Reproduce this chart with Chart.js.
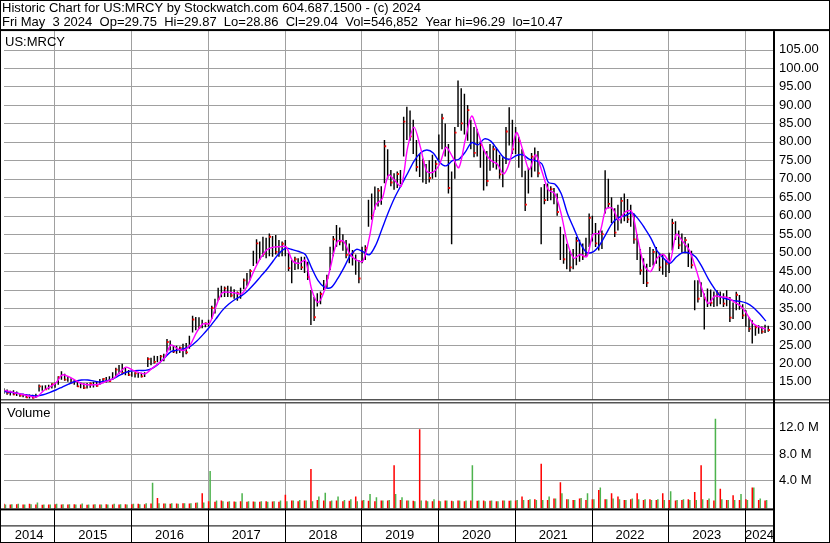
<!DOCTYPE html>
<html>
<head>
<meta charset="utf-8">
<script src="https://cdn.jsdelivr.net/npm/chart.js@4.4.1/dist/chart.umd.min.js"></script>
<style>
  html, body { margin: 0; padding: 0; background: #fff; }
  #wrap { width: 830px; height: 543px; }
</style>
</head>
<body>
<div id="wrap"><canvas id="myChart" width="830" height="543"></canvas></div>
<script>
const ctx = document.getElementById('myChart').getContext('2d');

// year boundaries and the labels under them
const years = [2014, 2015, 2016, 2017, 2018, 2019, 2020, 2021, 2022, 2023, 2024];
const yearLabels = ['2014', '2015', '2016', '2017', '2018', '2019', '2020', '2021', '2022', '2023', '2024'];

// half-month samples from May 2014 to May 2024
const firstSample = 2014.354;
const sampleStep = 1 / 24;

// price range of each half-month
const priceLow = [
  11.8,11.5,11.3,11.4,11.2,11.0,10.8,10.6,10.5,10.5,10.6,12.4,12.6,12.8,12.9,13.2,
  13.4,14.2,15.6,15.3,15.0,14.6,14.2,13.6,13.3,13.1,13.2,13.4,13.5,13.7,14.2,14.6,14.8,15.0,15.6,16.5,17.2,17.0,16.8,16.6,
  16.4,16.2,16.1,16.2,16.3,19.0,19.5,20.0,20.3,20.5,20.6,23.0,23.5,22.8,22.6,22.8,21.7,22.5,24.0,28.4,29.0,29.3,29.5,29.8,
  30.0,32.0,33.5,37.0,37.9,38.0,38.0,37.9,37.5,37.0,37.5,40.1,41.0,42.5,46.4,47.0,48.0,48.9,48.5,49.0,48.9,49.5,48.9,49.0,
  49.0,45.0,41.7,45.3,45.5,45.3,44.5,42.6,30.4,31.5,35.4,36.0,39.9,40.5,45.3,49.0,51.6,52.0,50.5,48.5,47.1,46.5,44.0,41.7,
  47.1,48.0,57.0,58.9,61.6,62.5,63.0,68.8,70.0,68.0,67.0,67.5,68.5,76.0,80.5,80.3,76.7,72.0,70.5,69.0,68.6,69.0,70.0,70.4,
  75.0,78.0,76.0,66.0,52.3,70.0,84.0,83.0,82.0,80.3,78.0,75.8,76.0,73.0,66.8,68.0,72.2,73.0,72.5,70.0,67.7,74.0,79.0,76.7,
  76.7,73.0,70.4,61.3,66.0,70.4,72.0,70.4,52.3,63.1,64.0,64.2,63.1,60.0,48.0,47.0,45.5,44.8,45.5,46.6,47.5,48.0,49.0,51.5,
  53.0,51.5,50.6,51.0,60.6,62.0,58.0,54.2,56.0,57.9,58.5,58.0,57.0,52.4,48.0,44.0,41.5,40.7,46.1,46.5,47.0,45.0,44.0,43.4,
  44.5,50.6,53.4,51.0,50.0,49.8,46.1,45.7,34.4,36.5,38.0,29.2,35.3,35.5,35.3,35.5,36.0,35.3,35.5,31.2,32.0,34.4,34.5,32.0,
  29.9,28.5,25.4,27.5,28.0,28.0,28.2,28.6
];
const priceHigh = [
  13.3,12.9,12.6,12.7,12.4,12.0,11.8,11.7,11.6,11.5,11.8,14.3,14.0,14.1,14.2,14.6,
  14.8,16.5,17.9,17.2,16.6,16.0,15.6,15.2,14.8,14.6,14.7,14.8,15.0,15.2,15.8,16.0,16.3,16.5,17.6,18.8,19.6,19.9,19.0,18.2,
  17.8,17.6,17.4,17.5,17.6,21.7,21.5,22.1,22.0,22.3,22.6,26.6,26.2,25.0,24.8,24.6,25.3,25.5,27.5,32.9,32.6,32.5,31.8,31.1,
  31.8,35.6,37.5,40.5,41.0,40.8,41.0,40.8,40.1,39.5,40.5,43.0,44.5,45.5,50.5,53.6,53.0,54.3,54.0,55.2,54.5,54.8,53.4,53.0,
  53.4,50.0,48.0,48.9,48.5,48.9,48.9,47.5,39.9,38.0,39.0,39.5,42.6,44.0,51.6,54.5,57.5,56.8,55.0,53.4,52.5,50.7,49.5,48.0,
  51.6,52.0,64.3,66.0,67.9,67.5,68.0,80.5,78.0,72.4,71.5,72.0,72.4,86.8,89.5,88.5,86.0,80.5,76.7,75.5,74.0,75.0,76.5,75.0,
  82.0,87.6,85.0,79.4,72.0,84.0,96.6,94.5,93.0,90.0,86.0,84.0,83.5,80.3,78.0,77.5,79.4,79.0,78.5,76.5,75.8,84.0,89.4,86.0,
  84.0,81.3,78.0,72.2,73.0,77.0,78.5,77.5,67.7,68.6,68.7,68.0,67.5,66.0,57.0,55.0,52.4,50.5,51.0,54.2,53.5,52.5,54.0,60.6,
  60.0,58.0,56.0,56.0,72.3,70.0,65.0,62.0,63.0,65.0,66.0,64.5,63.0,60.6,55.0,51.0,48.5,47.0,51.5,51.0,51.5,50.0,49.7,48.0,
  50.0,59.2,58.5,56.0,55.2,54.2,52.5,50.5,42.5,42.5,42.0,38.9,40.3,40.0,39.5,39.8,39.5,39.0,39.8,38.0,36.5,39.4,38.5,36.0,
  34.4,32.5,31.7,30.3,30.3,30.0,30.5,30.2
];
// closing marks, one per month (on the odd half-month samples)
const priceClose = [
  12.0,11.6,11.3,10.8,10.7,13.8,13.0,14.4,16.2,15.6,14.8,13.8,13.4,14.5,13.9,15.8,15.2,18.3,17.4,16.9,
  17.3,16.5,21.2,20.4,21.9,25.8,23.2,24.2,23.0,31.9,29.8,30.8,35.0,37.5,40.3,38.4,39.0,42.5,45.0,52.5,
  49.6,54.3,50.2,52.4,45.8,48.2,46.0,43.4,32.5,38.8,43.2,53.6,53.0,49.4,50.0,43.0,51.2,60.0,66.8,78.8,
  69.0,71.3,85.5,81.5,73.2,74.6,70.2,74.0,86.4,67.5,82.5,85.0,88.6,77.0,79.2,69.4,78.0,71.2,82.8,78.0,
  80.2,63.0,76.0,71.5,64.2,67.2,61.0,48.2,46.0,53.2,49.0,59.4,52.5,55.0,63.2,55.4,64.0,59.0,53.6,45.2,
  41.8,50.2,46.0,47.0,58.0,52.0,53.4,46.6,37.5,37.6,36.4,39.0,36.2,32.4,38.6,33.0,29.4,29.8,28.6,29.04
];

// moving averages, one value per month (every second sample)
const maFast = [
  12.7,12.3,11.9,11.5,11.1,10.9,12.5,13.6,14.7,16.9,
  16.4,15.5,14.5,14.2,14.2,14.5,15.2,15.9,17.6,19.0,
  18.2,17.5,17.2,18.6,19.9,21.5,25.0,24.0,23.5,25.0,
  28.4,30.7,30.8,35.3,39.1,39.3,39.1,38.8,41.2,45.2,
  48.5,50.8,51.5,51.6,51.6,47.8,47.1,47.9,40.0,36.5,
  39.8,46.5,53.0,53.0,49.5,48.0,47.7,54.0,62.9,64.5,
  71.0,69.5,68.0,78.5,84.0,78.5,72.0,71.8,74.0,78.5,
  76.0,73.0,80.5,87.0,82.5,77.5,75.0,74.0,71.3,74.9,
  82.5,77.8,72.5,76.5,72.0,67.0,66.0,60.5,52.5,48.5,
  49.5,48.9,55.0,55.3,61.8,62.0,58.8,61.0,61.2,53.5,
  46.5,44.9,48.5,49.5,47.5,55.0,53.0,50.8,46.0,40.3,
  36.2,38.2,38.0,37.9,36.7,35.6,33.5,30.8,29.8,29.3
];
const maSlow = [
  12.4,12.2,11.9,11.6,11.3,11.2,11.5,12.1,12.8,13.6,
  14.4,15.1,15.5,15.5,15.2,15.0,15.3,15.9,16.8,17.6,
  18.0,18.1,18.1,18.6,19.8,21.5,23.2,23.6,24.0,24.6,
  26.0,27.8,29.8,32.0,34.3,36.0,37.3,38.3,39.7,41.5,
  43.5,45.5,47.8,50.0,51.2,50.8,50.3,49.5,45.8,42.4,
  40.6,40.5,42.8,45.8,49.1,50.9,50.3,49.4,52.0,56.5,
  61.0,65.0,68.3,71.5,74.8,77.0,77.8,77.0,74.5,73.5,
  74.9,75.3,77.2,79.8,79.2,80.8,80.2,78.0,75.8,75.3,
  76.3,76.5,75.3,74.9,74.0,69.0,68.6,66.0,60.5,56.5,
  52.5,50.0,50.2,52.0,55.0,58.0,59.5,60.0,60.8,59.2,
  56.8,54.0,50.5,48.5,47.1,48.8,50.0,49.9,48.9,46.2,
  42.9,40.2,38.0,37.4,37.0,36.8,36.3,35.2,33.5,31.5
];

// monthly volume in millions, down days and up days
const volDown = [
  0.4,0.3,0.35,0.3,0.4,0.3,0.25,0.3,0.35,0.3,
  0.3,0.35,0.3,0.25,0.3,0.3,0.35,0.3,0.3,0.35,
  0.35,0.4,0.35,0.45,1.3,0.45,0.4,0.45,0.5,0.45,
  0.55,2.0,0.8,0.7,0.9,0.7,0.75,0.8,0.7,0.75,
  0.7,0.8,0.75,0.7,1.8,0.9,0.8,0.9,5.7,1.0,
  0.9,0.8,0.9,0.8,0.85,1.5,0.9,0.85,0.8,0.9,
  0.9,6.3,1.0,0.9,0.85,11.8,0.9,0.8,0.85,0.9,
  0.85,0.9,0.8,0.9,0.85,0.9,0.85,0.8,0.9,0.85,
  0.9,1.5,1.0,1.1,6.5,1.0,1.2,3.7,1.1,1.0,
  1.2,1.0,1.1,2.5,1.1,2.0,1.5,1.0,1.1,2.0,
  1.0,1.1,1.0,2.0,1.0,0.9,1.0,1.1,2.2,6.3,
  1.0,0.9,2.7,1.0,1.7,1.0,1.1,2.9,1.0,0.9
];
const volUp = [
  0.3,0.35,0.4,0.3,0.35,0.6,0.3,0.3,0.4,0.35,
  0.35,0.3,0.45,0.3,0.35,0.3,0.3,0.4,0.35,0.3,
  0.4,0.35,0.5,3.6,0.5,0.45,0.5,0.4,0.5,0.5,
  0.6,0.6,5.4,0.9,0.8,0.8,0.7,2.0,0.8,0.7,
  0.8,0.7,0.8,0.9,0.8,0.9,1.0,0.9,0.8,1.5,
  2.1,0.9,1.5,1.0,1.1,0.8,1.0,1.9,1.4,0.9,
  1.0,1.9,1.4,0.9,0.8,0.9,0.8,1.1,0.8,0.9,
  0.8,0.9,0.9,6.3,0.9,0.8,0.9,0.8,0.9,0.9,
  1.0,1.0,1.1,1.0,1.0,1.5,1.2,2.0,1.1,1.0,
  1.3,2.0,1.1,2.9,1.1,1.2,1.1,1.0,1.2,1.1,
  1.1,1.0,1.1,1.0,2.3,1.0,1.1,1.0,1.0,1.1,
  1.2,13.4,1.1,1.0,1.0,1.9,1.0,2.9,1.2,1.0
];

const priceTicks = [15,20,25,30,35,40,45,50,55,60,65,70,75,80,85,90,95,100,105];
const volTicks = [4, 8, 12];

const xMin = 2014.345, xMax = 2024.377;
const volMin = -0.3;
const gridColor = '#a0a0a0';
const font = { family: "'Liberation Sans', Arial, sans-serif", size: 13 };

const sampleDate = i => firstSample + i * sampleStep;
const priceBars = priceLow.map((lo, i) => ({ x: sampleDate(i), y: [lo, priceHigh[i]] }));
const closeMarks = priceClose.map((v, k) => ({ x: sampleDate(2 * k + 1), y: v }));
const fastLine = maFast.map((v, k) => ({ x: sampleDate(2 * k), y: v }));
const slowLine = maSlow.map((v, k) => ({ x: sampleDate(2 * k), y: v }));
const downBars = volDown.map((v, k) => ({ x: sampleDate(2 * k), y: v }));
const upBars = volUp.map((v, k) => ({ x: sampleDate(2 * k), y: v }));

// year labels sit in the middle of the visible part of each year
const labelTicks = years.map(y => {
  const lo = Math.max(y, xMin), hi = Math.min(y + 1, xMax);
  return (lo + hi) / 2;
});
// the time axes only keep the year boundaries as ticks (keeps bar widths sane)
const yearTicks = s => { s.ticks = years.slice(1).map(v => ({ value: v })); };

// light grid under the data
const grid = {
  id: 'paneGrid',
  beforeDatasetsDraw(chart) {
    const { ctx, chartArea: a, scales } = chart;
    const py = scales.y, vy = scales.yv;
    ctx.save();
    ctx.fillStyle = gridColor;
    priceTicks.forEach(v => {
      ctx.fillRect(a.left, Math.round(py.getPixelForValue(v)), a.right - a.left, 1);
    });
    volTicks.forEach(v => {
      ctx.fillRect(a.left, Math.round(vy.getPixelForValue(v)), a.right - a.left, 1);
    });
    years.slice(1).forEach(y => {
      const px = Math.round(scales.x.getPixelForValue(y));
      ctx.fillRect(px, py.top, 1, py.bottom - py.top - 1);
      ctx.fillRect(px, vy.top + 3, 1, vy.bottom - vy.top - 3);
    });
    ctx.restore();
  }
};

// borders, row separators and panel captions
const frame = {
  id: 'frame',
  afterDraw(chart) {
    const { ctx, chartArea: a, scales } = chart;
    const W = chart.width, H = chart.height;
    const axisX = scales.y.left;
    const split = scales.y.bottom;
    ctx.save();
    ctx.fillStyle = '#000';
    ctx.fillRect(0, 0, W, 1);
    ctx.fillRect(0, 0, 1, H);
    ctx.fillRect(W - 1, 0, 1, H);
    ctx.fillRect(0, H - 1, W, 1);
    ctx.fillRect(0, a.top - 2, W, 2);
    ctx.fillRect(axisX - 1, a.top, 2, H - a.top);
    ctx.fillRect(0, split - 1, W, 1);
    ctx.fillRect(0, split + 2, W, 1);
    ctx.fillRect(0, a.bottom, axisX, 2);
    ctx.fillRect(0, a.bottom + 17, axisX, 1);
    years.slice(1).forEach(y => {
      const px = Math.round(scales.x.getPixelForValue(y));
      ctx.fillRect(px, a.bottom, 1, H - a.bottom);
    });
    ctx.font = "13px 'Liberation Sans', Arial, sans-serif";
    ctx.textBaseline = 'middle';
    ctx.fillText('US:MRCY', 5, a.top + 11);
    ctx.fillText('Volume', 7, split + 13);
    ctx.restore();
  }
};

const myChart = new Chart(ctx, {
  type: 'bar',
  data: {
    datasets: [
      {
        type: 'line',
        label: 'MA fast',
        data: fastLine,
        xAxisID: 'x', yAxisID: 'y',
        borderColor: '#ff00ff',
        borderWidth: 1.4,
        pointRadius: 0,
        tension: 0.3,
        order: 0
      },
      {
        type: 'line',
        label: 'MA slow',
        data: slowLine,
        xAxisID: 'x', yAxisID: 'y',
        borderColor: '#0000ff',
        borderWidth: 1.4,
        pointRadius: 0,
        tension: 0.3,
        order: 1
      },
      {
        type: 'line',
        label: 'Close',
        data: closeMarks,
        xAxisID: 'x', yAxisID: 'y',
        showLine: false,
        pointStyle: 'rect',
        pointRadius: 1.3,
        pointBorderWidth: 0,
        pointBackgroundColor: '#ff0000',
        order: 2
      },
      {
        label: 'Price',
        data: priceBars,
        xAxisID: 'x', yAxisID: 'y',
        backgroundColor: '#000000',
        barPercentage: 0.9,
        categoryPercentage: 1,
        order: 3
      },
      {
        label: 'Volume down',
        data: downBars,
        xAxisID: 'xv', yAxisID: 'yv',
        backgroundColor: '#ff0000',
        base: volMin,
        barPercentage: 1,
        categoryPercentage: 0.95,
        order: 4
      },
      {
        label: 'Volume up',
        data: upBars,
        xAxisID: 'xv', yAxisID: 'yv',
        backgroundColor: '#4db34d',
        base: volMin,
        barPercentage: 1,
        categoryPercentage: 0.95,
        order: 5
      }
    ]
  },
  options: {
    responsive: false,
    animation: false,
    events: [],
    layout: { padding: { left: 2, right: 1, top: 0, bottom: 0 } },
    plugins: {
      legend: { display: false },
      tooltip: { enabled: false },
      title: {
        display: true,
        align: 'start',
        color: '#000',
        font: { family: font.family, size: 13, weight: 'normal', lineHeight: 1.08 },
        padding: { top: 1, bottom: 2 },
        text: [
          'Historic Chart for US:MRCY by Stockwatch.com 604.687.1500 - (c) 2024',
          'Fri May  3 2024  Op=29.75  Hi=29.87  Lo=28.86  Cl=29.04  Vol=546,852  Year hi=96.29  lo=10.47'
        ]
      }
    },
    scales: {
      x: {
        type: 'linear',
        position: 'bottom',
        min: xMin, max: xMax,
        offset: false,
        afterBuildTicks: yearTicks,
        ticks: { display: false },
        grid: { display: false, drawTicks: false, offset: false },
        border: { display: false }
      },
      xv: {
        type: 'linear',
        position: 'bottom',
        min: xMin, max: xMax,
        offset: false,
        afterBuildTicks: yearTicks,
        ticks: { display: false },
        grid: { display: false, drawTicks: false, offset: false },
        border: { display: false }
      },
      xl: {
        type: 'linear',
        position: 'bottom',
        min: xMin, max: xMax,
        offset: false,
        afterBuildTicks: s => { s.ticks = labelTicks.map(v => ({ value: v })); },
        ticks: {
          font: font,
          color: '#000',
          padding: 0,
          autoSkip: false,
          maxRotation: 0,
          callback: (v, i) => yearLabels[i]
        },
        grid: { display: false, drawTicks: true, tickLength: 19, offset: false },
        border: { display: false }
      },
      y: {
        type: 'linear',
        position: 'right',
        stack: 'panes',
        stackWeight: 369,
        min: 10, max: 110,
        afterBuildTicks: s => { s.ticks = priceTicks.map(v => ({ value: v })); },
        afterFit: s => { s.width = 55; },
        ticks: { font: font, color: '#000', padding: 5, autoSkip: false, callback: v => v.toFixed(2) },
        grid: { display: false, drawTicks: false },
        border: { display: false }
      },
      yv: {
        type: 'linear',
        position: 'right',
        stack: 'panes',
        stackWeight: 108,
        min: volMin, max: 16.2,
        afterBuildTicks: s => { s.ticks = volTicks.map(v => ({ value: v })); },
        afterFit: s => { s.width = 55; },
        ticks: { font: font, color: '#000', padding: 5, autoSkip: false, callback: v => v.toFixed(1) + ' M' },
        grid: { display: false, drawTicks: false },
        border: { display: false }
      }
    }
  },
  plugins: [grid, frame]
});
</script>
</body>
</html>
